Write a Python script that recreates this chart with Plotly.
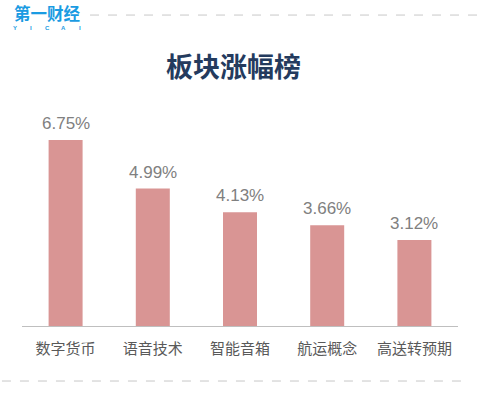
import plotly.graph_objects as go

categories = ["数字货币", "语音技术", "智能音箱", "航运概念", "高送转预期"]
values = [6.75, 4.99, 4.13, 3.66, 3.12]
labels = ["6.75%", "4.99%", "4.13%", "3.66%", "3.12%"]
title_text = "板块涨幅榜"
logo_text = "第一财经"
logo_letters = ["Y", "I", "C", "A", "I"]

# plot area target: x 22..458, y 105..326 (body margin removed below)
fig = go.Figure()
fig.add_trace(go.Bar(
    x=categories, y=values, width=0.39,
    marker=dict(color="#d99594", line=dict(width=0)),
    hoverinfo="skip",
))
for c, v, t in zip(categories, values, labels):
    fig.add_annotation(x=c, y=v, text=t, showarrow=False, yanchor="bottom",
                       yshift=5, font=dict(family="Liberation Sans, Arial", size=17, color="#808080"))

fig.update_layout(
    width=482, height=395,
    margin=dict(l=22, r=24, t=105, b=69),
    paper_bgcolor="white", plot_bgcolor="white",
    showlegend=False,
    xaxis=dict(showgrid=False, showline=True, linecolor="#bfbfbf", linewidth=1,
               ticks="", ticklabelstandoff=9,
               tickfont=dict(family="Noto Sans CJK SC", size=15, color="#595959"),
               fixedrange=True),
    yaxis=dict(range=[0, 8.02], visible=False, fixedrange=True),
    font=dict(family="Noto Sans CJK SC"),
)
# title
fig.add_annotation(xref="paper", yref="paper", x=0.484, y=1, yshift=40, xanchor="center", yanchor="middle",
                   text="<b>" + title_text + "</b>", showarrow=False,
                   font=dict(family="Noto Sans CJK SC", size=27, color="#243b5e"))
# logo
fig.add_annotation(xref="paper", yref="paper", x=-0.021, y=1, yshift=92, xanchor="left", yanchor="middle",
                   text="<b>" + logo_text + "</b>", showarrow=False, borderpad=0,
                   font=dict(family="Noto Sans CJK SC", size=16.5, color="#1a9be2"))
for i, ch in enumerate(logo_letters):
    fig.add_annotation(xref="paper", yref="paper", x=-0.016, y=1, xshift=i * 16.2, yshift=77,
                       xanchor="center", yanchor="middle", text="<b>" + ch + "</b>", showarrow=False,
                       borderpad=0, font=dict(family="Liberation Sans", size=6, color="#1a9be2"))
# dashed lines
fig.add_shape(type="line", xref="paper", yref="paper", x0=0.156, x1=1.1, y0=1.407, y1=1.407,
              line=dict(color="#c8c8c8", width=1, dash="dash"))
fig.add_shape(type="line", xref="paper", yref="paper", x0=-0.046, x1=1.009, y0=-0.249, y1=-0.249,
              line=dict(color="#c8c8c8", width=1, dash="dash"))
fig.write_html("out.html", config={"displayModeBar": False},
               post_script="document.body.style.margin='0';")
